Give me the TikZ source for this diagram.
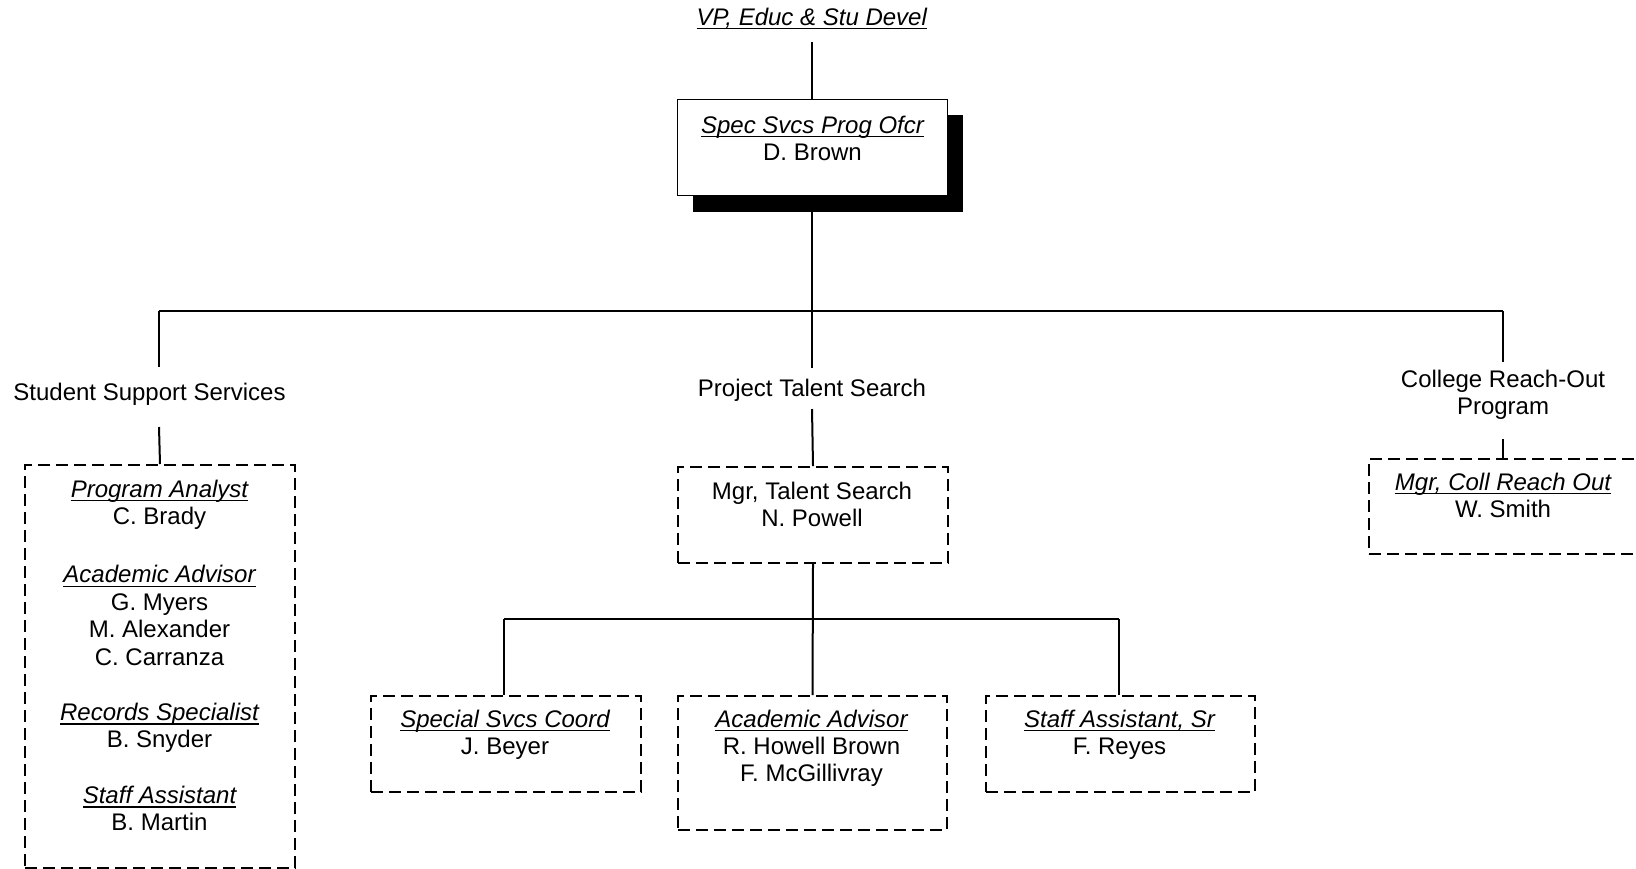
\documentclass[tikz,border=0pt]{standalone}
\usepackage{fontspec}
\setmainfont{Liberation Sans}
\newsavebox\ulbx
\newcommand\ulit[1]{\sbox\ulbx{\itshape #1}\leavevmode\rlap{\rule[-2.2pt]{\wd\ulbx}{0.75pt}}\usebox\ulbx}
\newcommand\lines[1]{\begin{tabular}[t]{@{}c@{}}#1\end{tabular}}
\begin{document}
\begin{tikzpicture}[x=0.5pt,y=-0.5pt,
  conn/.style={line width=1pt, black},
  dbox/.style={draw, line width=1pt, dash pattern=on 6pt off 3pt, anchor=north west, inner sep=0pt, minimum width=135pt, minimum height=48pt},
  sbox/.style={draw, line width=0.7pt, fill=white, anchor=north west, inner sep=0pt, minimum width=135pt, minimum height=48pt},
  shbox/.style={fill=black, anchor=north west, inner sep=0pt, minimum width=135pt, minimum height=48.5pt},
  txt/.style={font=\fontsize{12pt}{13.7pt}\selectfont, inner sep=0pt, anchor=base},
]
\useasboundingbox (0,0) rectangle (1636,868);

% boxes (positions of top-left corners in px)
\node[dbox, minimum height=201.5pt] (sss) at (24,464) {};
\node[dbox] (mgr) at (677,466) {};
\node[dbox, minimum width=137pt, minimum height=47.5pt] (coll) at (1368,458) {};
\node[dbox] (spc) at (370,695) {};
\node[dbox, minimum width=134.5pt, minimum height=67pt] (aca) at (677,695) {};
\node[dbox, minimum width=134.5pt] (stf) at (985,695) {};

% texts
\node[txt] (vp) at (811.7,25) {\ulit{VP, Educ \& Stu Devel}};
\node[txt] (ssst) at (149.5,400) {Student Support Services};
\node[txt] (ptst) at (812,396) {Project Talent Search};
\node[txt] (crot) at (1503,387) {\lines{College Reach-Out\\Program}};
\node[txt] (ssslist) at (159.5,497) {\lines{\ulit{Program Analyst}\\C. Brady\\[15.5pt]
  \ulit{Academic Advisor}\\G. Myers\\M. Alexander\\C. Carranza\\[14pt]
  \ulit{Records Specialist}\\B. Snyder\\[14pt]
  \ulit{Staff Assistant}\\B. Martin}};
\node[txt] (mgrt) at (812,499) {\lines{Mgr, Talent Search\\N. Powell}};
\node[txt] (collt) at (1503,490) {\lines{\ulit{Mgr, Coll Reach Out}\\W. Smith}};
\node[txt] (spct) at (505,727) {\lines{\ulit{Special Svcs Coord}\\J. Beyer}};
\node[txt] (acat) at (811.5,727) {\lines{\ulit{Academic Advisor}\\R. Howell Brown\\F. McGillivray}};
\node[txt] (stft) at (1119.5,727) {\lines{\ulit{Staff Assistant, Sr}\\F. Reyes}};

% junction coordinates
\coordinate (bus) at (812,311);
\coordinate (busL) at (159,311);
\coordinate (busR) at (1503,311);
\coordinate (sssA) at (159,367);
\coordinate (sssB) at (159,427);
\coordinate (ptsA) at (812,368);
\coordinate (ptsB) at (812,409);
\coordinate (croA) at (1503,362);
\coordinate (croB) at (1503,439);
\coordinate (vpB) at (812,42);
\coordinate (sub) at (812,619);
\coordinate (subL) at (504,619);
\coordinate (subR) at (1119,619);

% connectors
\draw[conn] (vpB) -- (bus);
\draw[conn] (busL) -- (busR);
\draw[conn] (busL) -- (sssA);
\draw[conn] (sssB) -- (sss.north);
\draw[conn] (bus) -- (ptsA);
\draw[conn] (ptsB) -- (mgr.north);
\draw[conn] (busR) -- (croA);
\draw[conn] (croB) -- (croB |- coll.north);
\draw[conn] (mgr.south) -- (aca.north);
\draw[conn] (subL) -- (subR);
\draw[conn] (subL) -- (subL |- spc.north);
\draw[conn] (subR) -- (subR |- stf.north);

% top box with shadow
\node[shbox] (shadow) at (693,115) {};
\node[sbox] (spec) at (677,99) {};
\node[txt] (spect) at (812.5,133) {\lines{\ulit{Spec Svcs Prog Ofcr}\\D. Brown}};
\end{tikzpicture}
\end{document}
